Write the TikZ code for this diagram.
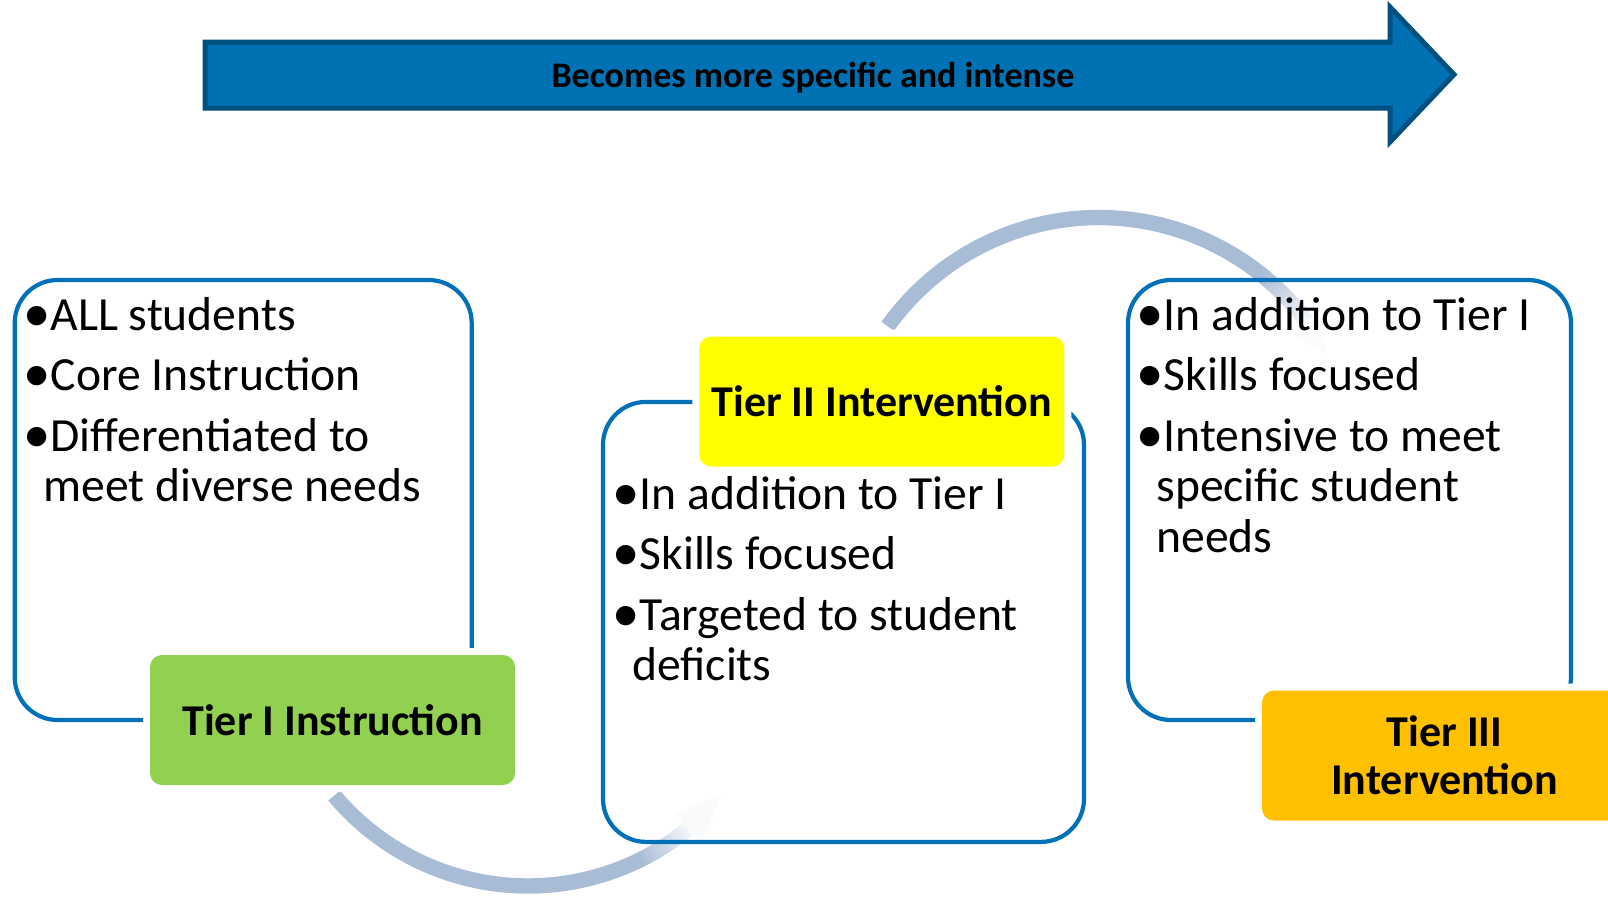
\documentclass[tikz,border=0pt]{standalone}
\usepackage{fontspec}
\setmainfont{Carlito}
\definecolor{arrowfill}{RGB}{0,113,178}
\definecolor{arrowline}{RGB}{0,80,127}
\definecolor{boxline}{RGB}{0,112,184}
\definecolor{arccol}{RGB}{169,188,213}
\definecolor{tgreen}{RGB}{146,208,80}
\definecolor{tyellow}{RGB}{255,255,0}
\definecolor{torange}{RGB}{255,192,0}
\newcommand\bdotmark{\raisebox{-0.03em}{\scalebox{1.15}{•}}}
\tikzset{
  panel/.style={draw=boxline, line width=2.1pt, rounded corners=21.5pt, inner sep=0pt},
  tierlabel/.style={rounded corners=6pt, minimum width=182.5pt, minimum height=65pt,
    inner sep=0pt, font=\fontsize{22}{24}\selectfont\bfseries, align=center,
    preaction={draw=white, line width=7pt}},
  listline/.style={anchor=base west, inner sep=0pt, font=\fontsize{23.8}{25.5}\selectfont},
  arcseg/.style={line width=7.7pt},
}
\begin{document}
\begin{tikzpicture}[x=0.5pt,y=-0.5pt]
\useasboundingbox (0,0) rectangle (1608,896);
\clip (0,0) rectangle (1608,896);
\fill[white] (0,0) rectangle (1608,896);

% top arrow
\draw[fill=arrowfill, draw=arrowline, line width=2.5pt]
  (205,42) -- (1390,42) -- (1390,7) -- (1454,74.5) -- (1390,142) -- (1390,108) -- (205,108) -- cycle;
\node[font=\fontsize{18}{20}\selectfont\bfseries] (arrowtext) at (813,78) {Becomes more specific and intense};

% top curved arrow (Tier II -> Tier III)
\draw[arcseg, arccol] plot[domain=144.5:51.7, samples=70] ({1099+259.5*cos(\x)},{477-259.5*sin(\x)});
\foreach \i in {0,...,15}{
  \pgfmathsetmacro\aa{52-\i}
  \pgfmathsetmacro\ab{52-\i-1.3}
  \pgfmathtruncatemacro\pp{100-\i*6}
  \draw[arcseg, color=arccol!\pp!white] plot[domain=\aa:\ab, samples=4] ({1099+259.5*cos(\x)},{477-259.5*sin(\x)});
}
\fill[arccol!5!white] ({1099+278*cos(37)},{477-278*sin(37)}) -- ({1099+258*cos(28)},{477-258*sin(28)}) -- ({1099+241*cos(37)},{477-241*sin(37)}) -- cycle;

% bottom curved arrow (Tier I -> Tier II)
\draw[arcseg, arccol] plot[domain=220:296.3, samples=70] ({528+253*cos(\x)},{633-253*sin(\x)});
\foreach \i in {0,...,13}{
  \pgfmathsetmacro\aa{296+\i}
  \pgfmathsetmacro\ab{296+\i+1.3}
  \pgfmathtruncatemacro\pp{100-\i*6.8}
  \draw[arcseg, color=arccol!\pp!white] plot[domain=\aa:\ab, samples=4] ({528+253*cos(\x)},{633-253*sin(\x)});
}
\fill[arccol!8!white] ({528+272*cos(309.5)},{633-272*sin(309.5)}) -- ({528+252*cos(320)},{633-252*sin(320)}) -- ({528+234*cos(309.5)},{633-234*sin(309.5)}) -- cycle;

% panels
\node[panel, minimum width=228.5pt, minimum height=220pt] (p1) at (243.2,500) {};
\node[panel, minimum width=240.5pt, minimum height=220pt] (p2) at (843.5,621.9) {};
\node[panel, minimum width=221.5pt, minimum height=220pt] (p3) at (1349.5,500) {};

% panel texts
\node[listline] (a1) at (23,330) {\bdotmark ALL students};
\node[listline] (a2) at (23,390) {\bdotmark Core Instruction};
\node[listline] (a3) at (23,451) {\bdotmark Differentiated to};
\node[listline] (a4) at (43,501) {meet diverse needs};

\node[listline] (b1) at (612,509.5) {\bdotmark In addition to Tier I};
\node[listline] (b2) at (612,569.5) {\bdotmark Skills focused};
\node[listline] (b3) at (612,630.5) {\bdotmark Targeted to student};
\node[listline] (b4) at (632,680.5) {deficits};

\node[listline] (c1) at (1136,330) {\bdotmark In addition to Tier I};
\node[listline] (c2) at (1136,390) {\bdotmark Skills focused};
\node[listline] (c3) at (1136,451) {\bdotmark Intensive to meet};
\node[listline] (c4) at (1156,501) {specific student};
\node[listline] (c5) at (1156,552) {needs};

% tier labels
\node[tierlabel, fill=tgreen] (t1) at (332.5,720) {Tier I Instruction};
\node[tierlabel, fill=tyellow] (t2) at (881.8,401.5) {Tier II Intervention};
\node[tierlabel, fill=torange] (t3) at (1444.5,755.5) {Tier III\\Intervention};
\end{tikzpicture}
\end{document}
